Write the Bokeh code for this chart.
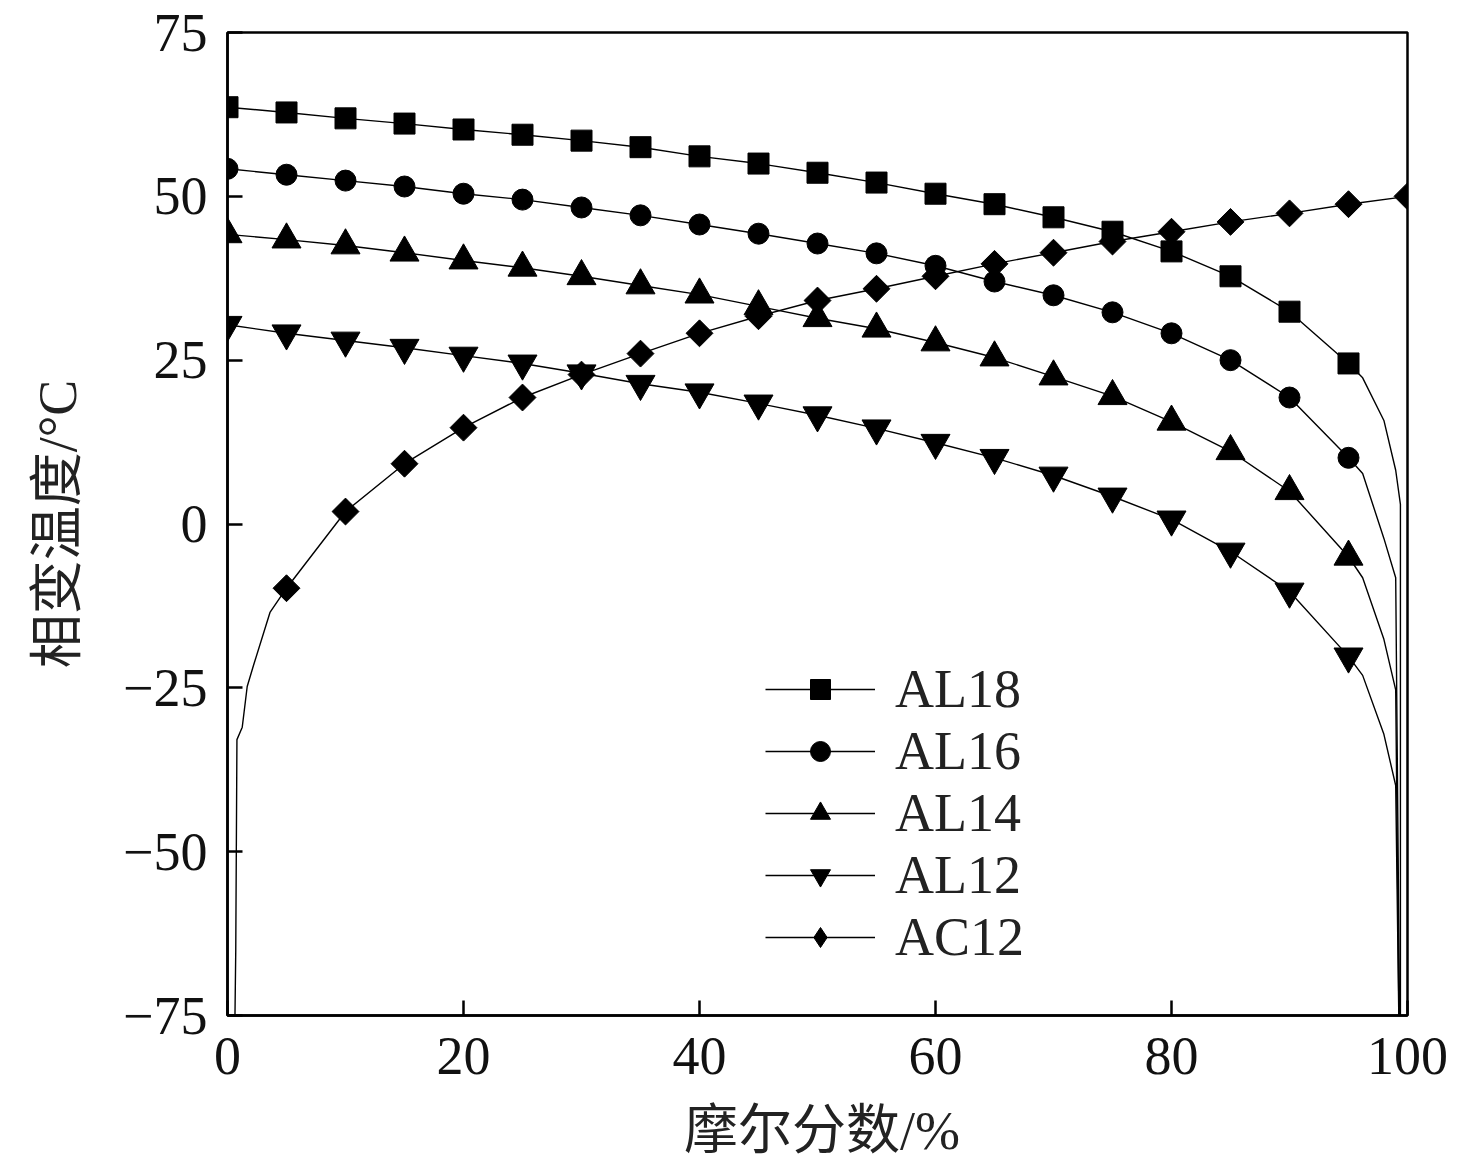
import math
from bokeh.plotting import figure
from bokeh.models import Legend, LegendItem, FixedTicker, Div, Spacer
from bokeh.layouts import column, row
from bokeh.embed import file_html
from bokeh.resources import INLINE

# ---- data ----
x_pts = [0, 5, 10, 15, 20, 25, 30, 35, 40, 45, 50, 55, 60, 65, 70, 75, 80, 85, 90, 95]
al18 = [63.6, 62.8, 61.9, 61.1, 60.2, 59.4, 58.5, 57.5, 56.1, 55.0, 53.6, 52.1, 50.4, 48.8, 46.8, 44.6, 41.6, 37.8, 32.4, 24.5]
al16 = [54.2, 53.3, 52.4, 51.5, 50.4, 49.5, 48.3, 47.1, 45.7, 44.3, 42.8, 41.3, 39.4, 37.0, 34.9, 32.3, 29.1, 25.0, 19.3, 10.1]
al14 = [44.2, 43.4, 42.5, 41.4, 40.2, 39.1, 37.8, 36.4, 35.0, 33.2, 31.4, 29.8, 27.7, 25.4, 22.5, 19.5, 15.6, 11.1, 5.0, -5.0]
al12 = [30.4, 29.1, 28.0, 26.9, 25.7, 24.5, 23.0, 21.4, 20.1, 18.4, 16.6, 14.6, 12.4, 10.1, 7.4, 4.2, 0.7, -4.2, -10.3, -20.2]
ac12_x = [5, 10, 15, 20, 25, 30, 35, 40, 45, 50, 55, 60, 65, 70, 75, 80, 85, 90, 95, 100]
ac12 = [-9.8, 1.9, 9.2, 14.7, 19.3, 22.8, 26.0, 29.1, 31.7, 34.1, 35.9, 37.8, 39.7, 41.4, 43.1, 44.6, 46.1, 47.4, 48.8, 50.0]

# curve tails beyond the last marker
al18_tail_x = [96.2, 98.0, 99.0, 99.4, 99.4]
al18_tail_y = [22.3, 15.8, 8.2, 3.0, -80]
al16_tail_x = [96.2, 98.0, 99.0, 99.35]
al16_tail_y = [7.7, -2.2, -8.2, -80]
al14_tail_x = [96.2, 98.0, 99.0, 99.3]
al14_tail_y = [-8.2, -17.6, -25.3, -80]
al12_tail_x = [96.2, 98.0, 99.0, 99.3]
al12_tail_y = [-23.1, -32.1, -39.9, -80]
ac12_head_x = [0.6, 0.7, 0.8, 1.25, 1.67, 2.2, 3.6]
ac12_head_y = [-80, -65, -32.9, -31.0, -24.8, -21.6, -13.5]

names = ["AL18", "AL16", "AL14", "AL12", "AC12"]
x_ticks = [0, 20, 40, 60, 80, 100]
y_ticks = [-75, -50, -25, 0, 25, 50, 75]
y_tick_labels = ["\u221275", "\u221250", "\u221225", "0", "25", "50", "75"]
x_label = "摩尔分数/%"
y_label = "相变温度/°C"

FONT = "'Liberation Serif', 'Times New Roman', 'Noto Sans CJK SC', serif"
FS = "54px"

p = figure(width=1460, height=1099, x_range=(0, 100), y_range=(-75, 75),
           output_backend="svg", toolbar_location=None,
           min_border_left=227, min_border_right=53, min_border_top=32, min_border_bottom=84)

p.xgrid.visible = False
p.ygrid.visible = False
p.background_fill_color = "white"
p.border_fill_color = "white"
p.outline_line_color = "black"
p.outline_line_width = 2.5

for ax in (p.xaxis[0], p.yaxis[0]):
    ax.axis_line_width = 2.5
    ax.axis_line_color = "black"
    ax.major_tick_in = 15
    ax.major_tick_out = 0
    ax.major_tick_line_width = 2.5
    ax.minor_tick_line_color = None
    ax.major_label_text_font = FONT
    ax.major_label_text_font_size = FS
    ax.major_label_text_color = "#111111"
    ax.axis_label_text_font = FONT
    ax.axis_label_text_font_size = FS
    ax.axis_label_text_font_style = "normal"
    ax.axis_label_text_color = "#222222"

p.xaxis[0].ticker = FixedTicker(ticks=x_ticks)
p.yaxis[0].ticker = FixedTicker(ticks=y_ticks)
p.yaxis[0].major_label_overrides = {t: l for t, l in zip(y_ticks, y_tick_labels)}
p.yaxis[0].axis_label = y_label
p.xaxis[0].major_label_standoff = 22
p.yaxis[0].major_label_standoff = 20
p.yaxis[0].axis_label_standoff = 32

LW = 1.4
series = [
    (x_pts, al18, x_pts + al18_tail_x, al18 + al18_tail_y, "square", 21, 0.0),
    (x_pts, al16, x_pts + al16_tail_x, al16 + al16_tail_y, "circle", 21, 0.0),
    (x_pts, al14, x_pts + al14_tail_x, al14 + al14_tail_y, "triangle", 29, 0.0),
    (x_pts, al12, x_pts + al12_tail_x, al12 + al12_tail_y, "inverted_triangle", 29, 0.0),
    (ac12_x, ac12, ac12_head_x + ac12_x, ac12_head_y + ac12, "square", 19, math.pi / 4),
]

items = []
for name, (mx, my, lx, ly, marker, size, ang) in zip(names, series):
    r_line = p.line(lx, ly, line_color="black", line_width=LW)
    rends = [r_line]
    if ang != 0.0:
        # legend keys are drawn unrotated; a tiny diamond (hidden under the
        # rotated squares) supplies the diamond key for this series
        r_key = p.scatter(mx, my, marker="diamond", size=1,
                          fill_color="black", line_color="black")
        rends.append(r_key)
    r_mark = p.scatter(mx, my, marker=marker, size=size, angle=ang,
                       fill_color="black", line_color="black", line_width=1)
    if ang == 0.0:
        rends.append(r_mark)
    items.append(LegendItem(label=name, renderers=rends))

legend = Legend(items=items, location=(538, 47),
                glyph_width=110, glyph_height=50, label_height=50,
                spacing=-3, label_standoff=20, padding=0, margin=0,
                label_text_font=FONT, label_text_font_size=FS,
                label_text_color="#222222",
                border_line_color=None, background_fill_alpha=0)
p.add_layout(legend, "center")

# x-axis title, centred under the plot frame
xtitle = Div(text=x_label, width=1180, height=56,
             styles={"font-family": FONT, "font-size": FS, "color": "#222222",
                     "text-align": "center", "line-height": "54px", "white-space": "nowrap"})
layout = column(p, row(Spacer(width=227, height=56), xtitle, spacing=0), spacing=0)

open("out.html", "w").write(file_html(layout, INLINE))
